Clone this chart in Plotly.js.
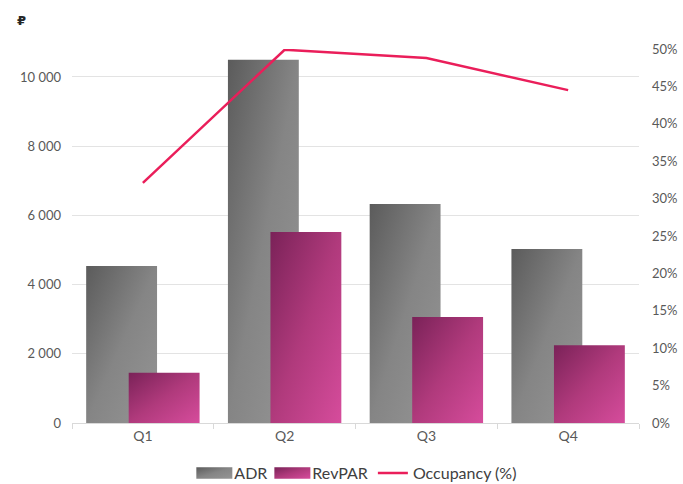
<!DOCTYPE html>
<html><head><meta charset="utf-8">
<script src="https://cdn.plot.ly/plotly-3.0.1.min.js"></script>
<style>html,body{margin:0;padding:0;background:#fff}#chart{width:683px;height:484px}</style>
</head><body>
<svg width="0" height="0" style="position:absolute">
<defs>
<linearGradient id="gADR" x1="0" y1="0" x2="1" y2="1">
<stop offset="0" stop-color="#5b5b5b"/><stop offset="0.5" stop-color="#858585"/><stop offset="1" stop-color="#959595"/>
</linearGradient>
<linearGradient id="gRev" x1="0" y1="0" x2="1" y2="1">
<stop offset="0" stop-color="#7a2258"/><stop offset="0.5" stop-color="#b03a7c"/><stop offset="1" stop-color="#d64c9c"/>
</linearGradient>
</defs>
</svg>
<div id="chart"></div>
<script>
const quarters = ["Q1", "Q2", "Q3", "Q4"];
const adr = [4540, 10500, 6330, 5030];
const revpar = [1450, 5520, 3060, 2250];
const occupancy = [0.321, 0.499, 0.488, 0.445];

const font = {family: "Lato, 'Open Sans', sans-serif", size: 13, color: "#595959"};

const traces = [
  {type: "bar", name: "ADR", x: quarters, y: adr, offset: -0.4, width: 0.5,
   marker: {color: "#858585", line: {width: 0}}, yaxis: "y"},
  {type: "bar", name: "RevPAR", x: quarters, y: revpar, offset: -0.1, width: 0.5,
   marker: {color: "#a8336f", line: {width: 0}}, yaxis: "y"},
  {type: "scatter", mode: "lines", name: "Occupancy (%)", x: quarters, y: occupancy,
   line: {color: "#ea1e5a", width: 2.5}, yaxis: "y2"}
];

const layout = {
  width: 683, height: 484,
  margin: {l: 72, r: 44, t: 49, b: 61, autoexpand: false},
  paper_bgcolor: "#fff", plot_bgcolor: "#fff",
  font: font,
  separators: ", ",
  barmode: "overlay",
  showlegend: true,
  legend: {orientation: "h", x: 0.505, xanchor: "center", y: -0.134, yanchor: "middle",
           font: {family: font.family, size: 16, color: "#404040"}, itemwidth: 30, traceorder: "normal"},
  xaxis: {type: "category", showgrid: false, zeroline: false, showline: true, linecolor: "#d9d9d9", linewidth: 1,
          ticks: "outside", tickson: "boundaries", ticklen: 5, tickcolor: "#d9d9d9",
          tickfont: {family: font.family, size: 14, color: "#595959"}, fixedrange: true},
  yaxis: {range: [0, 10809], tickvals: [0, 2000, 4000, 6000, 8000, 10000], tickformat: ",d",
          showgrid: true, gridcolor: "#e3e3e3", gridwidth: 1, zeroline: false, showline: false,
          ticks: "", ticklabelstandoff: 10, tickfont: {family: font.family, size: 13, color: "#595959"}},
  yaxis2: {overlaying: "y", side: "right", range: [0, 0.5], dtick: 0.05, tickformat: ".0%",
           showgrid: false, zeroline: false, showline: false, ticks: "", ticklabelstandoff: 12,
           tickfont: {family: font.family, size: 13, color: "#595959"}},
  annotations: [{text: "<b>₽</b>", xref: "paper", yref: "paper", x: -0.1, y: 1.075, xanchor: "left", yanchor: "middle",
                 showarrow: false, font: {family: "DejaVu Sans, sans-serif", size: 13, color: "#262626"}}]
};

Plotly.newPlot("chart", traces, layout, {displayModeBar: false, staticPlot: true}).then(function(gd){
  const ids = ["gADR", "gRev"];
  gd.querySelectorAll(".barlayer .trace").forEach(function(tr, i){
    tr.querySelectorAll("path").forEach(function(p){ p.style.fill = "url(#" + ids[i] + ")"; });
  });
  gd.querySelectorAll(".legend .traces").forEach(function(t, i){
    if (i < 2) t.querySelectorAll(".legendpoints path").forEach(function(p){
      p.style.fill = "url(#" + ids[i] + ")";
      p.setAttribute("transform", "translate(20,0) scale(3,0.95)");
    });
  });
});
</script>
</body></html>
